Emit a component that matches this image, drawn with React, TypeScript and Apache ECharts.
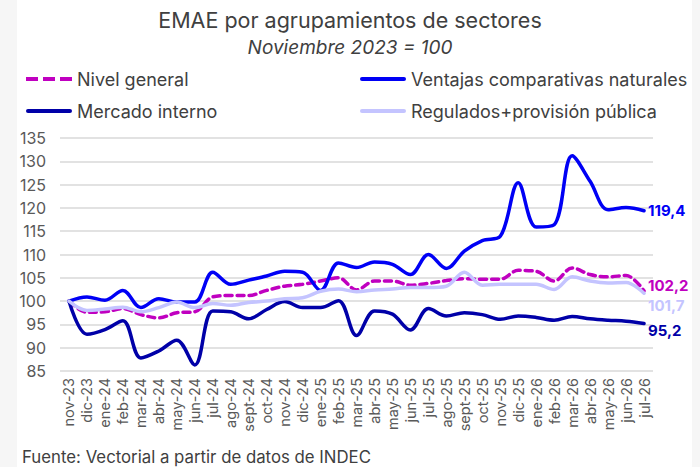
import React, { useEffect, useRef } from "react";
import * as echarts from "echarts";

const categories = [
  "nov-23", "dic-23", "ene-24", "feb-24", "mar-24", "abr-24", "may-24", "jun-24",
  "jul-24", "ago-24", "sept-24", "oct-24", "nov-24", "dic-24", "ene-25", "feb-25",
  "mar-25", "abr-25", "may-25", "jun-25", "jul-25", "ago-25", "sept-25", "oct-25",
  "nov-25", "dic-25", "ene-26", "feb-26", "mar-26", "abr-26", "may-26", "jun-26", "jul-26",
];

const nivelGeneral = [
  100, 97.6, 97.7, 98.4, 97.1, 96.4, 97.5, 97.7, 100.9, 101.2, 101.2, 102.3, 103.2,
  103.6, 104.3, 105.0, 102.4, 104.3, 104.3, 103.4, 103.8, 104.4, 104.8, 104.7, 104.7,
  106.6, 106.4, 104.3, 107.1, 105.7, 105.2, 105.5, 102.2,
];

const ventajas = [
  100, 100.9, 100.2, 102.3, 98.6, 100.5, 99.8, 99.8, 106.2, 103.6, 104.5, 105.4, 106.4,
  106.2, 102.3, 108.2, 107.2, 108.4, 107.9, 105.7, 110.0, 107.0, 110.7, 113.0, 113.9,
  125.4, 115.9, 116.4, 131.2, 125.7, 119.6, 120.1, 119.4,
];

const mercadoInterno = [
  100, 92.9, 93.9, 95.8, 87.8, 89.3, 91.6, 86.3, 97.9, 97.7, 96.2, 98.2, 99.9, 98.6,
  98.6, 100.1, 92.6, 97.9, 97.2, 93.8, 98.4, 96.8, 97.5, 97.1, 96.1, 96.8, 96.5, 95.9,
  96.7, 96.2, 95.9, 95.7, 95.2,
];

const regulados = [
  100, 98.0, 98.3, 98.7, 97.7, 98.6, 99.8, 98.6, 99.5, 99.1, 99.7, 100.0, 100.5, 100.7,
  102.1, 102.6, 102.0, 102.4, 102.6, 102.9, 102.9, 103.2, 106.2, 103.4, 103.6, 103.6,
  103.6, 102.5, 105.2, 104.3, 103.9, 104.0, 101.7,
];

const FONT = "Inter, 'Noto Sans', sans-serif";
const TXT = "#404040";

const fmt = (v: number) => v.toFixed(1).replace(".", ",");

const DASH_ICON =
  "path://M0,0H12V4H0Z M17,0H29V4H17Z M34,0H46V4H34Z";
const SOLID_ICON = "path://M2,0H44A2,2 0 0 1 44,4H2A2,2 0 0 1 2,0Z";

export default function App() {
  const ref = useRef<HTMLDivElement>(null);

  useEffect(() => {
    if (!ref.current) return;
    const chart = echarts.init(ref.current, undefined, { renderer: "svg" });

    const mkSeries = (
      name: string,
      data: number[],
      color: string,
      dashed: boolean,
      offset: [number, number]
    ) => ({
      name,
      type: "line",
      data,
      smooth: 0.35,
      symbol: "none",
      showSymbol: false,
      lineStyle: { color, width: 3.5, type: dashed ? [7, 5] : "solid", cap: "round" },
      itemStyle: { color },
      endLabel: {
        show: true,
        formatter: (p: any) => fmt(p.value),
        color,
        fontFamily: FONT,
        fontSize: 15,
        fontWeight: "bold",
        distance: 4,
        offset,
      },
    });

    const legendBase = {
      itemWidth: 46,
      itemHeight: 4,
      itemGap: 4,
      textStyle: { color: TXT, fontSize: 18, fontFamily: FONT },
    };

    chart.setOption({
      animation: false,
      backgroundColor: "#ffffff",
      textStyle: { fontFamily: FONT },
      title: [
        {
          text: "EMAE por agrupamientos de sectores",
          left: "center",
          top: 4,
          textStyle: { color: TXT, fontSize: 21.5, fontWeight: "normal", fontFamily: FONT },
        },
        {
          text: "Noviembre 2023 = 100",
          left: "center",
          top: 33,
          textStyle: {
            color: TXT,
            fontSize: 19,
            fontWeight: "normal",
            fontStyle: "italic",
            fontFamily: FONT,
          },
        },
      ],
      legend: [
        { ...legendBase, data: [{ name: "Nivel general", icon: DASH_ICON }], left: 21, top: 65 },
        {
          ...legendBase,
          data: [{ name: "Ventajas comparativas naturales", icon: SOLID_ICON }],
          left: 355,
          top: 65,
        },
        { ...legendBase, data: [{ name: "Mercado interno", icon: SOLID_ICON }], left: 21, top: 97 },
        {
          ...legendBase,
          data: [{ name: "Regulados+provisión pública", icon: SOLID_ICON }],
          left: 355,
          top: 97,
        },
      ],
      grid: { left: 60, right: 47, top: 138, bottom: 96, containLabel: false },
      xAxis: {
        type: "category",
        data: categories,
        boundaryGap: true,
        axisLine: { show: false },
        axisTick: { show: false },
        axisLabel: {
          rotate: 90,
          interval: 0,
          fontSize: 14.5,
          color: "#595959",
          fontFamily: FONT,
          margin: 7,
        },
      },
      yAxis: {
        type: "value",
        min: 85,
        max: 135,
        interval: 5,
        axisLine: { show: false },
        axisTick: { show: false },
        axisLabel: { fontSize: 16, color: "#595959", fontFamily: FONT, margin: 14 },
        splitLine: { lineStyle: { color: "#d9d9d9", width: 1.5 } },
      },
      graphic: [
        {
          type: "text",
          left: 22,
          top: 448,
          style: {
            text: "Fuente: Vectorial a partir de datos de INDEC",
            fill: TXT,
            fontSize: 16.8,
            fontFamily: FONT,
          },
        },
        {
          type: "rect",
          shape: { x: 0, y: 0, width: 17, height: 467 },
          style: { fill: "#f6f6f6" },
          silent: true,
        },
        {
          type: "rect",
          shape: { x: 692, y: 0, width: 8, height: 467 },
          style: { fill: "#f6f6f6" },
          silent: true,
        },
      ],
      series: [
        mkSeries("Nivel general", nivelGeneral, "#c000c0", true, [0, -5]),
        mkSeries("Ventajas comparativas naturales", ventajas, "#0000f5", false, [0, 0]),
        mkSeries("Mercado interno", mercadoInterno, "#0000a8", false, [0, 7]),
        mkSeries("Regulados+provisión pública", regulados, "#c4c4ff", false, [0, 12]),
      ],
    });

    return () => chart.dispose();
  }, []);

  return (
    <div
      ref={ref}
      style={{ position: "fixed", left: 0, top: 0, width: 700, height: 467 }}
    />
  );
}
